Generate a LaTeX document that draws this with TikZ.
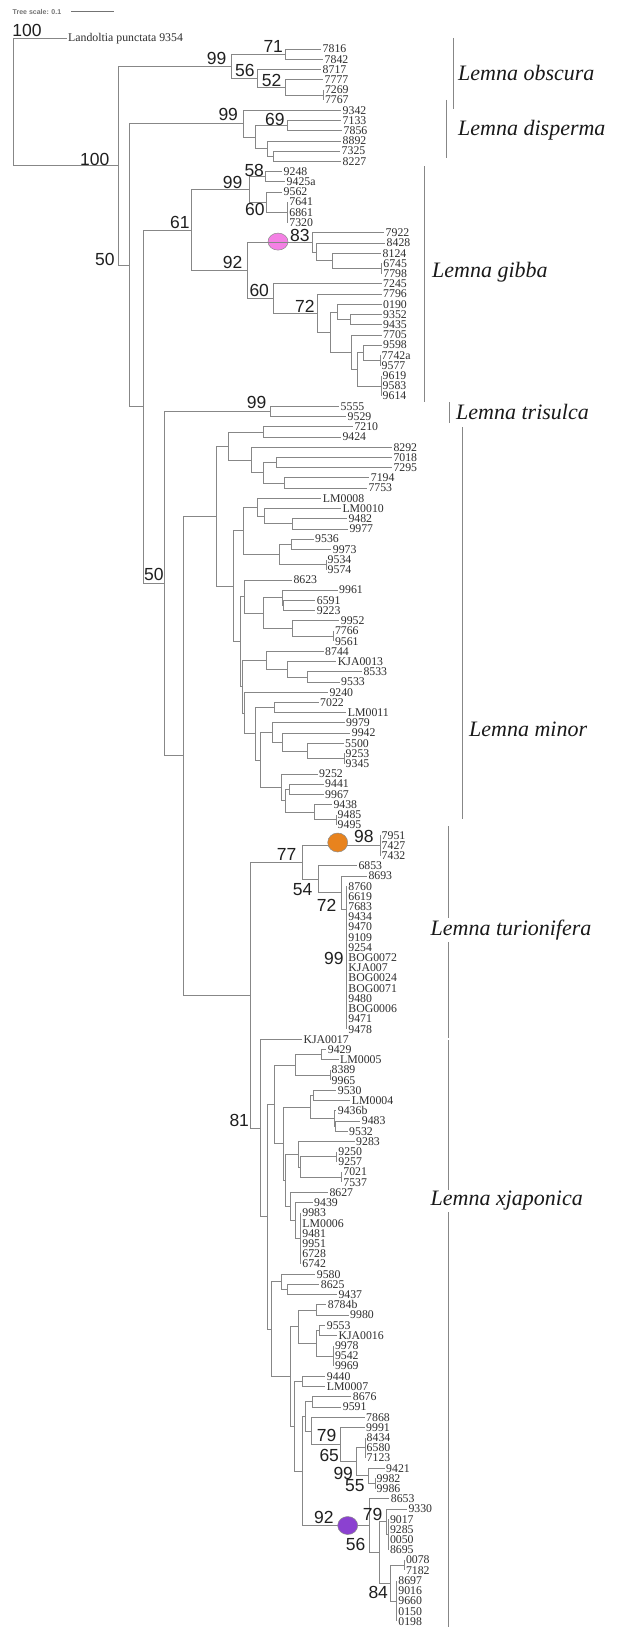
\documentclass[tikz,border=0pt]{standalone}
\usepackage{fontspec}
\setmainfont{Liberation Serif}
\newfontfamily\bsf{Liberation Sans}
\usetikzlibrary{calc}
\definecolor{brc}{RGB}{135,135,135}
\definecolor{txc}{RGB}{45,45,45}
\definecolor{pinkc}{RGB}{244,128,228}
\definecolor{orangec}{RGB}{232,131,30}
\definecolor{purplec}{RGB}{139,65,208}
\newcommand\mylf[3]{\node[lf] (l#1) at (#2,{49+(#1-1)*10.21}) {#3};}
\newcommand\mynd[4]{\path let \p1=(#3),\p2=(#4) in (#2pt,{(\y1+\y2)/2}) coordinate (#1);}
\newcommand\myed[2]{\foreach \ch in {#2}{\draw[br] (#1) |- (\ch);}}
\newcommand\mybs[4]{\node[bs] (#1) at (#2,#3) {#4};}
\begin{document}
\begin{tikzpicture}[x=1pt,y=-1pt,
  br/.style={draw=brc,line width=0.75pt},
  lf/.style={anchor=west,inner xsep=1.5pt,inner ysep=0pt,font=\fontsize{11.8}{12}\selectfont,text=txc},
  bs/.style={anchor=base west,inner sep=0pt,font=\bsf\fontsize{17.5}{18}\selectfont,text=black!88},
  cl/.style={anchor=west,inner sep=0pt,font=\itshape\fontsize{22}{23}\selectfont,text=black!90},
  brk/.style={draw=brc,line width=0.75pt}]
\fill[white] (0,0) rectangle (619,1627);
\useasboundingbox (0,0) rectangle (619,1627);
% scale bar
\node[anchor=west,inner sep=0pt,font=\bsf\bfseries\fontsize{7}{7}\selectfont,text=black!55] (scl) at (12.5,11.5) {Tree scale: 0.1};
\coordinate (sb1) at (71,11.5); \coordinate (sb2) at (114,11.5);
\draw[black!55,line width=0.6pt] (sb1) -- (sb2);
% leaves
\mylf{0}{66.5}{Landoltia punctata 9354}
\mylf{1}{321}{7816}\mylf{2}{323}{7842}\mylf{3}{321}{8717}\mylf{4}{323}{7777}
\mylf{5}{323.3}{7269}\mylf{6}{323.3}{7767}
\mylf{7}{341}{9342}\mylf{8}{341}{7133}\mylf{9}{342}{7856}\mylf{10}{341}{8892}
\mylf{11}{340}{7325}\mylf{12}{341}{8227}
\mylf{13}{282}{9248}\mylf{14}{285}{9425a}\mylf{15}{282}{9562}
\mylf{16}{287.7}{7641}\mylf{17}{287.7}{6861}\mylf{18}{287.7}{7320}
\mylf{19}{384}{7922}\mylf{20}{385}{8428}\mylf{21}{381}{8124}
\mylf{22}{381.7}{6745}\mylf{23}{381.7}{7798}
\mylf{24}{381.5}{7245}\mylf{25}{381.5}{7796}\mylf{26}{381.5}{0190}
\mylf{27}{381.5}{9352}\mylf{28}{381.5}{9435}\mylf{29}{381.5}{7705}
\mylf{30}{381.5}{9598}\mylf{31}{380}{7742a}\mylf{32}{380}{9577}
\mylf{33}{381}{9619}\mylf{34}{381}{9583}\mylf{35}{381}{9614}
\mylf{36}{339}{5555}\mylf{37}{346}{9529}
\mylf{38}{352.8}{7210}\mylf{39}{340.8}{9424}\mylf{40}{391.8}{8292}
\mylf{41}{391.8}{7018}\mylf{42}{391.8}{7295}\mylf{43}{369.2}{7194}\mylf{44}{366.8}{7753}
\mylf{45}{321.2}{LM0008}\mylf{46}{340.8}{LM0010}\mylf{47}{346.8}{9482}\mylf{48}{347.8}{9977}
\mylf{49}{313.5}{9536}\mylf{50}{331.2}{9973}\mylf{51}{326}{9534}\mylf{52}{326}{9574}
\mylf{53}{291.8}{8623}\mylf{54}{337.5}{9961}\mylf{55}{315.2}{6591}\mylf{56}{315.2}{9223}
\mylf{57}{339.2}{9952}\mylf{58}{333.3}{7766}\mylf{59}{333.3}{9561}
\mylf{60}{323.5}{8744}\mylf{61}{336.2}{KJA0013}\mylf{62}{361.8}{8533}\mylf{63}{339.5}{9533}
\mylf{64}{327.8}{9240}\mylf{65}{318.5}{7022}\mylf{66}{346.2}{LM0011}
\mylf{67}{344.5}{9979}\mylf{68}{350.2}{9942}\mylf{69}{343.5}{5500}
\mylf{70}{344}{9253}\mylf{71}{344}{9345}
\mylf{72}{317.5}{9252}\mylf{73}{323.5}{9441}\mylf{74}{323.5}{9967}
\mylf{75}{331.8}{9438}\mylf{76}{336}{9485}\mylf{77}{336}{9495}
\mylf{78}{380}{7951}\mylf{79}{380}{7427}\mylf{80}{380}{7432}
\mylf{81}{356.8}{6853}\mylf{82}{366.8}{8693}
\mylf{83}{346.7}{8760}\mylf{84}{346.7}{6619}\mylf{85}{346.7}{7683}\mylf{86}{346.7}{9434}
\mylf{87}{346.7}{9470}\mylf{88}{346.7}{9109}\mylf{89}{346.7}{9254}\mylf{90}{346.7}{BOG0072}
\mylf{91}{346.7}{KJA007}\mylf{92}{346.7}{BOG0024}\mylf{93}{346.7}{BOG0071}\mylf{94}{346.7}{9480}
\mylf{95}{346.7}{BOG0006}\mylf{96}{346.7}{9471}\mylf{97}{346.7}{9478}
\mylf{98}{301.8}{KJA0017}\mylf{99}{326.2}{9429}\mylf{100}{338.5}{LM0005}
\mylf{101}{330}{8389}\mylf{102}{330}{9965}
\mylf{103}{336.2}{9530}\mylf{104}{350.2}{LM0004}\mylf{105}{336.2}{9436b}
\mylf{106}{360.2}{9483}\mylf{107}{347.5}{9532}\mylf{108}{354.5}{9283}
\mylf{109}{336.7}{9250}\mylf{110}{336.7}{9257}\mylf{111}{341.7}{7021}\mylf{112}{341.7}{7537}
\mylf{113}{327.8}{8627}\mylf{114}{312.5}{9439}
\mylf{115}{300.7}{9983}\mylf{116}{300.7}{LM0006}\mylf{117}{300.7}{9481}
\mylf{118}{300.7}{9951}\mylf{119}{300.7}{6728}\mylf{120}{300.7}{6742}
\mylf{121}{315.2}{9580}\mylf{122}{319.2}{8625}\mylf{123}{336.8}{9437}
\mylf{124}{326.2}{8784b}\mylf{125}{348.5}{9980}\mylf{126}{325.2}{9553}\mylf{127}{336.8}{KJA0016}
\mylf{128}{333.3}{9978}\mylf{129}{333.3}{9542}\mylf{130}{333.3}{9969}
\mylf{131}{325.2}{9440}\mylf{132}{325.2}{LM0007}
\mylf{133}{351.2}{8676}\mylf{134}{341.2}{9591}\mylf{135}{364.5}{7868}\mylf{136}{364.5}{9991}
\mylf{137}{365}{8434}\mylf{138}{365}{6580}\mylf{139}{365}{7123}
\mylf{140}{384.5}{9421}\mylf{141}{375}{9982}\mylf{142}{375}{9986}
\mylf{143}{389.2}{8653}\mylf{144}{406.8}{9330}
\mylf{145}{388.3}{9017}\mylf{146}{388.3}{9285}\mylf{147}{388.3}{0050}\mylf{148}{388.3}{8695}
\mylf{149}{404.3}{0078}\mylf{150}{404.3}{7182}
\mylf{151}{396.7}{8697}\mylf{152}{396.7}{9016}\mylf{153}{396.7}{9660}\mylf{154}{396.7}{0150}\mylf{155}{396.7}{0198}
% internal nodes
\mynd{O4}{323.3}{l5}{l6}
\mynd{O3}{285}{l4}{O4}
\mynd{O2}{257.7}{l3}{O3}
\mynd{O1}{285}{l1}{l2}
\mynd{O}{231.7}{O1}{O2}
\mynd{Dp3}{287}{l8}{l9}
\mynd{Dp5}{273}{l11}{l12}
\mynd{Dp4}{267}{l10}{Dp5}
\mynd{Dp2}{255}{Dp3}{Dp4}
\mynd{Dp}{243}{l7}{Dp2}
\mynd{G11}{265.7}{l13}{l14}
\mynd{G13}{287.7}{l16}{l18}
\mynd{G12}{266.7}{l15}{G13}
\mynd{G1}{249.3}{G11}{G12}
\mynd{P4}{381.7}{l22}{l23}
\mynd{P3}{332}{l21}{P4}
\mynd{P2}{316}{l20}{P3}
\mynd{P}{312.3}{l19}{P2}
\mynd{G7}{350}{l27}{l28}
\mynd{G6}{337.3}{l26}{G7}
\mynd{G10b}{380}{l31}{l32}
\mynd{G10}{363.3}{l30}{G10b}
\mynd{G9b}{381}{l33}{l35}
\mynd{G9}{357.3}{G10}{G9b}
\mynd{G8}{351.7}{l29}{G9}
\mynd{G5}{330}{G6}{G8}
\mynd{G4}{317.7}{l25}{G5}
\mynd{G3}{273.3}{l24}{G4}
\mynd{G2}{247.3}{P}{G3}
\mynd{G}{191.7}{G1}{G2}
\mynd{Tr}{270.7}{l36}{l37}
\mynd{M11}{263.3}{l38}{l39}
\mynd{M14}{276.7}{l41}{l42}
\mynd{M15}{284.3}{l43}{l44}
\mynd{M13}{263.3}{M14}{M15}
\mynd{M12}{251.7}{l40}{M13}
\mynd{M1}{228.7}{M11}{M12}
\mynd{M24}{292.7}{l47}{l48}
\mynd{M23}{264.3}{l46}{M24}
\mynd{M22}{257.3}{l45}{M23}
\mynd{M26}{291}{l49}{l50}
\mynd{M27}{326}{l51}{l52}
\mynd{M25}{279.3}{M26}{M27}
\mynd{M21}{243.3}{M22}{M25}
\mynd{M34}{283.7}{l55}{l56}
\mynd{M33}{282.7}{l54}{M34}
\mynd{M36}{333.3}{l58}{l59}
\mynd{M35}{292.7}{l57}{M36}
\mynd{M32}{263.3}{M33}{M35}
\mynd{M31}{244.3}{l53}{M32}
\mynd{M43}{307.3}{l62}{l63}
\mynd{M42}{287.7}{l61}{M43}
\mynd{M41}{266.7}{l60}{M42}
\mynd{M61}{274}{l65}{l66}
\mynd{M66}{344}{l70}{l71}
\mynd{M65}{307.3}{l69}{M66}
\mynd{M64}{282.7}{l68}{M65}
\mynd{M63}{272.3}{l67}{M64}
\mynd{M69}{289.3}{l73}{l74}
\mynd{M71}{336}{l76}{l77}
\mynd{M70}{314}{l75}{M71}
\mynd{M68}{285}{M69}{M70}
\mynd{M67}{281.7}{l72}{M68}
\mynd{M62}{260.7}{M63}{M67}
\mynd{M6}{255}{M61}{M62}
\mynd{M5}{244.3}{l64}{M6}
\mynd{M3b}{242.5}{M41}{M5}
\mynd{M3}{240.7}{M31}{M3b}
\mynd{M2}{233.3}{M21}{M3}
\mynd{M}{216}{M1}{M2}
\mynd{T98}{380}{l78}{l80}
\coordinate (Tp) at (346.7,909);
\mynd{T3}{341}{l82}{Tp}
\mynd{T2}{318}{l81}{T3}
\mynd{T1}{302}{T98}{T2}
\mynd{J32}{321.7}{l99}{l100}
\mynd{J33}{330}{l101}{l102}
\mynd{J31}{295.7}{J32}{J33}
\mynd{J36}{313.3}{l103}{l104}
\mynd{J38}{335}{l106}{l107}
\mynd{J37}{334.3}{l105}{J38}
\mynd{J35}{310.7}{J36}{J37}
\mynd{J42}{336.7}{l109}{l110}
\mynd{J43}{341.7}{l111}{l112}
\mynd{J41}{300.7}{J42}{J43}
\mynd{J40}{298.3}{l108}{J41}
\mynd{J46}{300.7}{l115}{l120}
\mynd{J45}{295}{l114}{J46}
\mynd{J44}{290.7}{l113}{J45}
\mynd{J39}{285}{J40}{J44}
\mynd{J34}{283.3}{J35}{J39}
\mynd{J3}{274}{J31}{J34}
\mynd{J52}{287.3}{l122}{l123}
\mynd{J51}{281}{l121}{J52}
\mynd{J55}{316.7}{l124}{l125}
\mynd{J57}{319.3}{l126}{l127}
\mynd{J58}{333.3}{l128}{l130}
\mynd{J56}{316}{J57}{J58}
\mynd{J54}{298.3}{J55}{J56}
\mynd{J60}{302.7}{l131}{l132}
\mynd{J63}{312.7}{l133}{l134}
\mynd{J67}{365}{l137}{l139}
\mynd{J69}{375}{l141}{l142}
\mynd{J68}{368.3}{l140}{J69}
\mynd{J66}{356.7}{J67}{J68}
\mynd{J65}{340.7}{l136}{J66}
\mynd{J64}{311}{l135}{J65}
\mynd{J62}{305}{J63}{J64}
\mynd{J73}{388.3}{l145}{l148}
\mynd{J72}{386.7}{l144}{J73}
\mynd{J75}{404.3}{l149}{l150}
\mynd{J76}{396.7}{l151}{l155}
\mynd{J74}{390.7}{J75}{J76}
\mynd{J71}{379}{J72}{J74}
\mynd{J70}{369.3}{l143}{J71}
\mynd{J61}{302.7}{J62}{J70}
\mynd{J59}{294.3}{J60}{J61}
\mynd{J53}{290.7}{J54}{J59}
\mynd{J5}{271.7}{J51}{J53}
\mynd{J2}{267.3}{J3}{J5}
\mynd{J}{260}{l98}{J2}
\mynd{F}{250}{T1}{J}
\mynd{E}{183}{M}{F}
\mynd{D}{164}{Tr}{E}
\mynd{C}{143}{G}{D}
\mynd{B}{129}{Dp}{C}
\mynd{A}{118}{O}{B}
\mynd{R}{13}{l0}{A}
% pink marker (branch passes over it)
\draw[fill=pinkc,draw=black!45,line width=0.5pt] (278,241.6) ellipse [x radius=10,y radius=8.5];
% edges
\myed{O4}{l5,l6}\myed{O3}{l4,O4}\myed{O2}{l3,O3}\myed{O1}{l1,l2}\myed{O}{O1,O2}
\myed{Dp3}{l8,l9}\myed{Dp5}{l11,l12}\myed{Dp4}{l10,Dp5}\myed{Dp2}{Dp3,Dp4}\myed{Dp}{l7,Dp2}
\myed{G11}{l13,l14}\myed{G13}{l16,l17,l18}\myed{G12}{l15,G13}\myed{G1}{G11,G12}
\myed{P4}{l22,l23}\myed{P3}{l21,P4}\myed{P2}{l20,P3}\myed{P}{l19,P2}
\myed{G7}{l27,l28}\myed{G6}{l26,G7}\myed{G10b}{l31,l32}\myed{G10}{l30,G10b}
\myed{G9b}{l33,l34,l35}\myed{G9}{G10,G9b}\myed{G8}{l29,G9}\myed{G5}{G6,G8}
\myed{G4}{l25,G5}\myed{G3}{l24,G4}\myed{G2}{P,G3}\myed{G}{G1,G2}
\myed{Tr}{l36,l37}
\myed{M11}{l38,l39}\myed{M14}{l41,l42}\myed{M15}{l43,l44}\myed{M13}{M14,M15}
\myed{M12}{l40,M13}\myed{M1}{M11,M12}
\myed{M24}{l47,l48}\myed{M23}{l46,M24}\myed{M22}{l45,M23}
\myed{M26}{l49,l50}\myed{M27}{l51,l52}\myed{M25}{M26,M27}\myed{M21}{M22,M25}
\myed{M34}{l55,l56}\myed{M33}{l54,M34}\myed{M36}{l58,l59}\myed{M35}{l57,M36}
\myed{M32}{M33,M35}\myed{M31}{l53,M32}
\myed{M43}{l62,l63}\myed{M42}{l61,M43}\myed{M41}{l60,M42}
\myed{M61}{l65,l66}\myed{M66}{l70,l71}\myed{M65}{l69,M66}\myed{M64}{l68,M65}\myed{M63}{l67,M64}
\myed{M69}{l73,l74}\myed{M71}{l76,l77}\myed{M70}{l75,M71}\myed{M68}{M69,M70}\myed{M67}{l72,M68}
\myed{M62}{M63,M67}\myed{M6}{M61,M62}\myed{M5}{l64,M6}\myed{M3b}{M41,M5}\myed{M3}{M31,M3b}
\myed{M2}{M21,M3}\myed{M}{M1,M2}
\myed{T98}{l78,l79,l80}
\myed{Tp}{l83,l84,l85,l86,l87,l88,l89,l90,l91,l92,l93,l94,l95,l96,l97}
\myed{T3}{l82,Tp}\myed{T2}{l81,T3}\myed{T1}{T98,T2}
\myed{J32}{l99,l100}\myed{J33}{l101,l102}\myed{J31}{J32,J33}
\myed{J36}{l103,l104}\myed{J38}{l106,l107}\myed{J37}{l105,J38}\myed{J35}{J36,J37}
\myed{J42}{l109,l110}\myed{J43}{l111,l112}\myed{J41}{J42,J43}\myed{J40}{l108,J41}
\myed{J46}{l115,l116,l117,l118,l119,l120}\myed{J45}{l114,J46}\myed{J44}{l113,J45}
\myed{J39}{J40,J44}\myed{J34}{J35,J39}\myed{J3}{J31,J34}
\myed{J52}{l122,l123}\myed{J51}{l121,J52}
\myed{J55}{l124,l125}\myed{J57}{l126,l127}\myed{J58}{l128,l129,l130}\myed{J56}{J57,J58}\myed{J54}{J55,J56}
\myed{J60}{l131,l132}\myed{J63}{l133,l134}
\myed{J67}{l137,l138,l139}\myed{J69}{l141,l142}\myed{J68}{l140,J69}\myed{J66}{J67,J68}
\myed{J65}{l136,J66}\myed{J64}{l135,J65}\myed{J62}{J63,J64}
\myed{J73}{l145,l146,l147,l148}\myed{J72}{l144,J73}\myed{J75}{l149,l150}
\myed{J76}{l151,l152,l153,l154,l155}\myed{J74}{J75,J76}\myed{J71}{J72,J74}\myed{J70}{l143,J71}
\myed{J61}{J62,J70}\myed{J59}{J60,J61}\myed{J53}{J54,J59}\myed{J5}{J51,J53}\myed{J2}{J3,J5}
\myed{J}{l98,J2}
\myed{F}{T1,J}\myed{E}{M,F}\myed{D}{Tr,E}\myed{C}{G,D}\myed{B}{Dp,C}\myed{A}{O,B}\myed{R}{l0,A}
% orange and purple markers
\draw[fill=orangec,draw=black!45,line width=0.5pt] (337.7,842.5) ellipse [x radius=10,y radius=9.5];
\draw[fill=purplec,draw=black!45,line width=0.5pt] (347.7,1525.5) ellipse [x radius=10,y radius=9];
% bootstrap values
\mybs{b1}{12.3}{36.7}{100}
\mybs{b2}{206.7}{65}{99}
\mybs{b3}{263.3}{52.7}{71}
\mybs{b4}{235}{76.7}{56}
\mybs{b5}{261.7}{86.7}{52}
\mybs{b6}{218.3}{120.7}{99}
\mybs{b7}{265}{126}{69}
\mybs{b8}{80}{165}{100}
\mybs{b9}{244.3}{176.7}{58}
\mybs{b10}{222.7}{188.3}{99}
\mybs{b11}{245}{215}{60}
\mybs{b12}{170}{228.3}{61}
\mybs{b13}{290}{241.7}{83}
\mybs{b14}{95}{265.7}{50}
\mybs{b15}{222.7}{268.3}{92}
\mybs{b16}{249.3}{296.7}{60}
\mybs{b17}{295}{312.7}{72}
\mybs{b18}{246.7}{408.3}{99}
\mybs{b19}{144}{580.7}{50}
\mybs{b20}{354}{842.7}{98}
\mybs{b21}{276.7}{860.7}{77}
\mybs{b22}{292.7}{895}{54}
\mybs{b23}{316.7}{911.7}{72}
\mybs{b24}{324}{964.3}{99}
\mybs{b25}{229.3}{1126.7}{81}
\mybs{b26}{316.7}{1441.5}{79}
\mybs{b27}{319.3}{1461.7}{65}
\mybs{b28}{333.3}{1479.3}{99}
\mybs{b29}{345}{1491.7}{55}
\mybs{b30}{314}{1523.3}{92}
\mybs{b31}{362.7}{1520}{79}
\mybs{b32}{345.7}{1550}{56}
\mybs{b33}{368.3}{1598.3}{84}
% clade brackets and names
\coordinate (k1a) at (453,38);  \coordinate (k1b) at (453,109);  \draw[brk] (k1a) -- (k1b);
\coordinate (k2a) at (446,100); \coordinate (k2b) at (446,158);  \draw[brk] (k2a) -- (k2b);
\coordinate (k3a) at (424,166); \coordinate (k3b) at (424,402);  \draw[brk] (k3a) -- (k3b);
\coordinate (k4a) at (449,402); \coordinate (k4b) at (449,423);  \draw[brk] (k4a) -- (k4b);
\coordinate (k5a) at (462,427); \coordinate (k5b) at (462,819);  \draw[brk] (k5a) -- (k5b);
\coordinate (k6a) at (448,826); \coordinate (k6b) at (448,1038); \draw[brk] (k6a) -- (k6b);
\coordinate (k7a) at (448,1040);\coordinate (k7b) at (448,1627); \draw[brk] (k7a) -- (k7b);
\node[cl] (c1) at (458,72.6) {Lemna obscura};
\node[cl] (c2) at (458,130.6) {Lemna disperma};
\node[cl] (c3) at (432,272) {Lemna gibba};
\node[cl] (c4) at (456,411.6) {Lemna trisulca};
\node[cl] (c5) at (469,729) {Lemna minor};
\node[cl,fill=white,inner sep=1.5pt] (c6) at (429,930) {Lemna turionifera};
\node[cl,fill=white,inner sep=1.5pt] (c7) at (429,1201) {Lemna xjaponica};
\end{tikzpicture}
\end{document}
